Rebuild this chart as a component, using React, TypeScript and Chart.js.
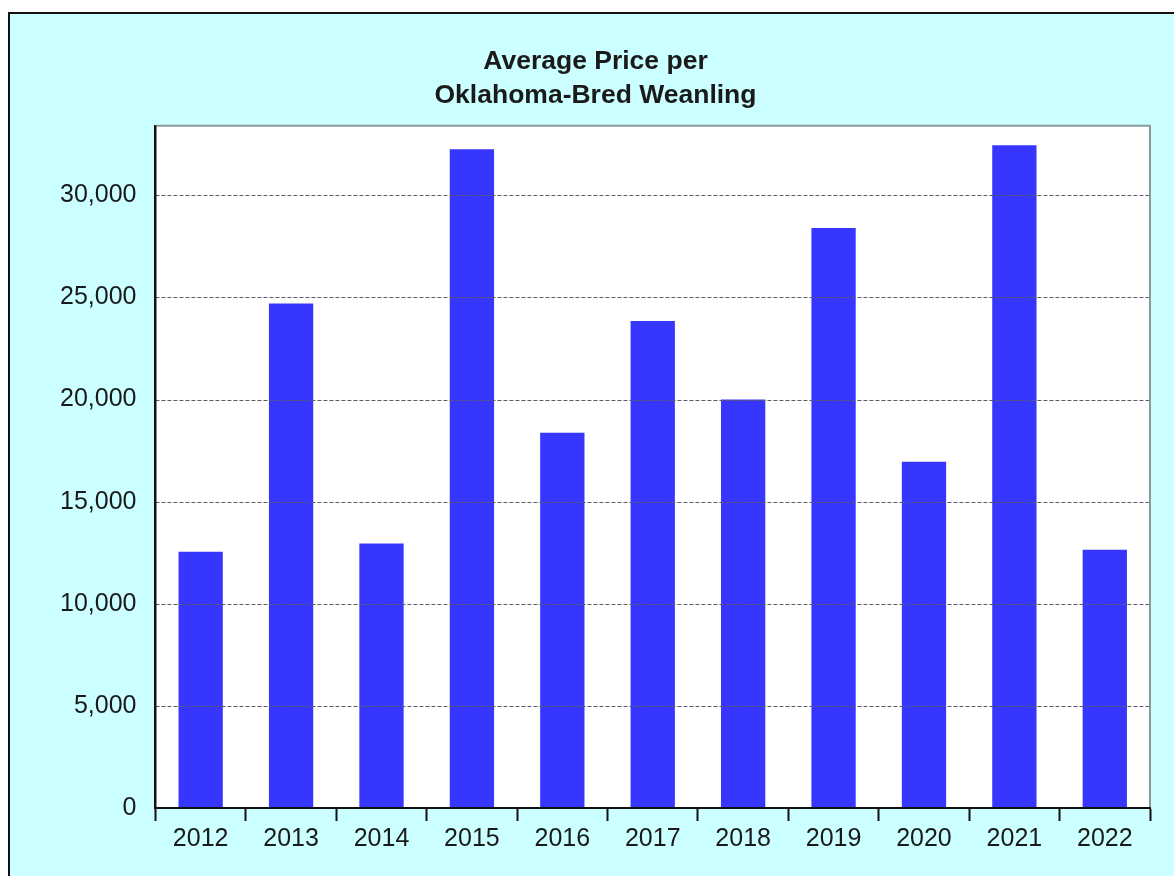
import React, { useEffect, useRef } from "react";
import { Chart, registerables } from "chart.js";

Chart.register(...registerables);

const years = ["2012", "2013", "2014", "2015", "2016", "2017", "2018", "2019", "2020", "2021", "2022"];
const avgPrice = [12550, 24700, 12950, 32250, 18370, 23850, 20000, 28400, 16950, 32450, 12650];
const yTickValues = [0, 5000, 10000, 15000, 20000, 25000, 30000];
const titleLines = ["Average Price per", "Oklahoma-Bred Weanling"];

const FONT = "'Liberation Sans', Arial, sans-serif";

const plotFrame = {
  id: "plotFrame",
  beforeDraw(chart: any) {
    const { ctx, chartArea } = chart;
    ctx.save();
    ctx.fillStyle = "#ffffff";
    ctx.fillRect(chartArea.left, chartArea.top, chartArea.right - chartArea.left, chartArea.bottom - chartArea.top);
    ctx.restore();
  },
  afterDatasetsDraw(chart: any) {
    const { ctx, chartArea } = chart;
    const yScale = chart.scales.y;
    ctx.save();
    ctx.strokeStyle = "#5a5a6a";
    ctx.lineWidth = 1;
    ctx.setLineDash([4, 2]);
    yScale.ticks.forEach((t: any) => {
      if (t.value === 0) return;
      const y = Math.round(yScale.getPixelForValue(t.value)) + 0.5;
      ctx.beginPath();
      ctx.moveTo(chartArea.left, y);
      ctx.lineTo(chartArea.right, y);
      ctx.stroke();
    });
    ctx.restore();
  },
  afterDraw(chart: any) {
    const { ctx, chartArea } = chart;
    ctx.save();
    ctx.strokeStyle = "#8a9a9a";
    ctx.lineWidth = 2;
    ctx.beginPath();
    ctx.moveTo(chartArea.left, chartArea.top);
    ctx.lineTo(chartArea.right, chartArea.top);
    ctx.lineTo(chartArea.right, chartArea.bottom);
    ctx.stroke();
    ctx.strokeStyle = "#111111";
    ctx.beginPath();
    ctx.moveTo(chartArea.left, chartArea.top);
    ctx.lineTo(chartArea.left, chartArea.bottom);
    ctx.lineTo(chartArea.right + 1, chartArea.bottom);
    ctx.stroke();
    ctx.restore();
  },
};

export default function App() {
  const ref = useRef<HTMLCanvasElement | null>(null);

  useEffect(() => {
    if (!ref.current) return;
    const chart = new Chart(ref.current, {
      type: "bar",
      data: {
        labels: years,
        datasets: [
          {
            data: avgPrice,
            backgroundColor: "#3636ff",
            borderWidth: 0,
            categoryPercentage: 1,
            barPercentage: 0.49,
          },
        ],
      },
      options: {
        animation: false,
        responsive: false,
        maintainAspectRatio: false,
        layout: { padding: { left: 31, right: 32, top: 0, bottom: 19 } },
        plugins: {
          legend: { display: false },
          tooltip: { enabled: false },
          title: {
            display: true,
            text: titleLines,
            color: "#1a1a1a",
            font: { family: FONT, size: 26.5, weight: "bold", lineHeight: 1.28 },
            padding: { top: 31, bottom: 13 },
          },
        },
        scales: {
          x: {
            grid: {
              display: true,
              drawOnChartArea: false,
              drawTicks: true,
              tickLength: 13,
              tickWidth: 2,
              tickColor: "#111111",
              offset: true,
            },
            border: { display: true, color: "#111111", width: 2 },
            ticks: {
              color: "#1a1a1a",
              font: { family: FONT, size: 25 },
              padding: 3,
              maxRotation: 0,
              autoSkip: false,
            },
          },
          y: {
            min: 0,
            max: 33400,
            afterBuildTicks: (axis: any) => {
              axis.ticks = yTickValues.map((v) => ({ value: v }));
            },
            grid: {
              display: true,
              drawOnChartArea: false,
              drawTicks: false,
            },
            border: { display: true, color: "#111111", width: 2 },
            ticks: {
              color: "#1a1a1a",
              font: { family: FONT, size: 25 },
              padding: 19,
              callback: (v: any) => Number(v).toLocaleString("en-US"),
            },
          },
        },
      },
      plugins: [plotFrame],
    });
    return () => chart.destroy();
  }, []);

  return (
    <div style={{ position: "fixed", left: 0, top: 0, width: 1174, height: 876, overflow: "hidden", background: "#ffffff" }}>
      <div
        style={{
          position: "absolute",
          left: 8,
          top: 12,
          width: 1180,
          height: 880,
          border: "2px solid #111",
          background: "#ccffff",
        }}
      >
        <canvas ref={ref} width={1172} height={862} style={{ display: "block", width: 1172, height: 862 }} />
      </div>
    </div>
  );
}
